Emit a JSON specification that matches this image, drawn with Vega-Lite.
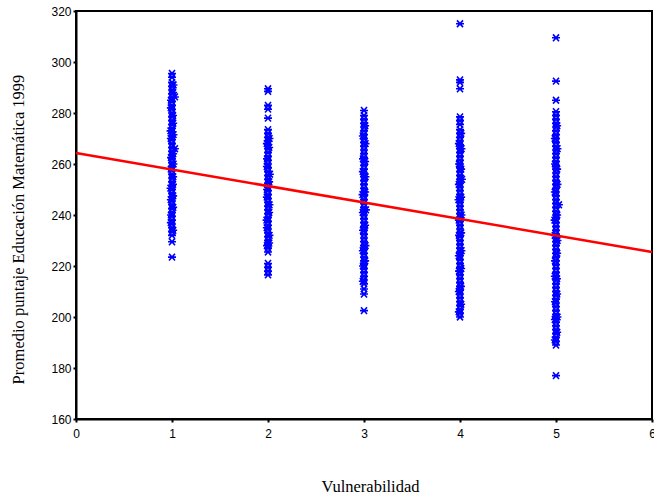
{
  "$schema": "https://vega.github.io/schema/vega-lite/v6.json",
  "width": 576,
  "height": 408,
  "autosize": {"type": "none"},
  "padding": {"left": 76, "top": 11, "right": 2, "bottom": 76},
  "background": "white",
  "config": {
    "view": {"stroke": "black", "strokeWidth": 2},
    "axis": {"grid": false, "domainColor": "black", "domainWidth": 2, "tickColor": "black", "tickWidth": 2, "tickSize": 3, "labelFont": "Liberation Sans", "labelFontSize": 12, "labelColor": "black", "titleFont": "Liberation Serif", "titleFontSize": 16.5, "titleFontWeight": "normal", "titleColor": "black"}
  },
  "datasets": {
    "pts": [
      {"v":1,"p":295.5},{"v":1,"p":294},{"v":1,"p":292},{"v":1,"p":290.5},{"v":1,"p":289},{"v":1,"p":287.5},{"v":1,"p":286},{"v":1,"p":284.5},{"v":1,"p":283},{"v":1,"p":281.5},{"v":1,"p":280},{"v":1,"p":278.5},{"v":1,"p":277},{"v":1,"p":275.5},{"v":1,"p":274},{"v":1,"p":272.5},{"v":1,"p":271},{"v":1,"p":269.5},{"v":1,"p":268},{"v":1,"p":266.5},{"v":1,"p":265},{"v":1,"p":263.5},{"v":1,"p":262},{"v":1,"p":260.5},{"v":1,"p":259},{"v":1,"p":257.5},{"v":1,"p":256},{"v":1,"p":254.5},{"v":1,"p":253},{"v":1,"p":251.5},{"v":1,"p":250},{"v":1,"p":248.5},{"v":1,"p":247},{"v":1,"p":245.5},{"v":1,"p":244},{"v":1,"p":242.5},{"v":1,"p":241},{"v":1,"p":239.5},{"v":1,"p":238},{"v":1,"p":236.5},{"v":1,"p":235},{"v":1,"p":233.5},{"v":1,"p":232},{"v":1,"p":229.5},{"v":1,"p":223.5},
      {"v":1.015,"p":291},{"v":1.03,"p":286.3},{"v":1.01,"p":279},{"v":1.015,"p":271.5},{"v":1.03,"p":266},{"v":1.015,"p":260},{"v":1.01,"p":252},{"v":0.99,"p":285},{"v":0.985,"p":273},{"v":0.99,"p":262.5},{"v":0.985,"p":250.5},{"v":0.99,"p":240},
      {"v":1.012,"p":288},{"v":0.988,"p":282},{"v":1.012,"p":276},{"v":0.988,"p":270},{"v":1.012,"p":264},{"v":0.988,"p":258},{"v":1.012,"p":255},{"v":0.988,"p":246},{"v":1.012,"p":243},{"v":0.988,"p":237},{"v":1.012,"p":234},{"v":1.012,"p":247.5},
      {"v":2,"p":289.5},{"v":2,"p":288.5},{"v":2,"p":283},{"v":2,"p":281.5},{"v":2,"p":278},{"v":2,"p":273.5},{"v":2,"p":272},{"v":2,"p":270.5},{"v":2,"p":269},{"v":2,"p":267.5},{"v":2,"p":266},{"v":2,"p":264.5},{"v":2,"p":263},{"v":2,"p":261.5},{"v":2,"p":260},{"v":2,"p":258.5},{"v":2,"p":257},{"v":2,"p":255.5},{"v":2,"p":254},{"v":2,"p":252.5},{"v":2,"p":251},{"v":2,"p":249.5},{"v":2,"p":248},{"v":2,"p":246.5},{"v":2,"p":245},{"v":2,"p":243.5},{"v":2,"p":242},{"v":2,"p":240.5},{"v":2,"p":239},{"v":2,"p":237.5},{"v":2,"p":236},{"v":2,"p":234.5},{"v":2,"p":233},{"v":2,"p":231.5},{"v":2,"p":230},{"v":2,"p":228.5},{"v":2,"p":227},{"v":2,"p":225.5},{"v":2,"p":221},{"v":2,"p":219.5},{"v":2,"p":218},{"v":2,"p":216.5},
      {"v":2.015,"p":270},{"v":2.02,"p":256},{"v":2.015,"p":244},{"v":2.015,"p":232},{"v":1.99,"p":262},{"v":1.99,"p":250},{"v":1.985,"p":238},{"v":1.99,"p":228},
      {"v":2.012,"p":266.5},{"v":1.988,"p":259},{"v":2.012,"p":253},{"v":1.988,"p":247},{"v":2.012,"p":241},{"v":1.988,"p":235},{"v":2.012,"p":229},{"v":1.988,"p":268},
      {"v":3,"p":281},{"v":3,"p":279},{"v":3,"p":277.5},{"v":3,"p":276},{"v":3,"p":274.5},{"v":3,"p":273},{"v":3,"p":271.5},{"v":3,"p":270},{"v":3,"p":268.5},{"v":3,"p":267},{"v":3,"p":265.5},{"v":3,"p":264},{"v":3,"p":262.5},{"v":3,"p":261},{"v":3,"p":259.5},{"v":3,"p":258},{"v":3,"p":256.5},{"v":3,"p":255},{"v":3,"p":253.5},{"v":3,"p":252},{"v":3,"p":250.5},{"v":3,"p":249},{"v":3,"p":247.5},{"v":3,"p":246},{"v":3,"p":244.5},{"v":3,"p":243},{"v":3,"p":241.5},{"v":3,"p":240},{"v":3,"p":238.5},{"v":3,"p":237},{"v":3,"p":235.5},{"v":3,"p":234},{"v":3,"p":232.5},{"v":3,"p":231},{"v":3,"p":229.5},{"v":3,"p":228},{"v":3,"p":226.5},{"v":3,"p":225},{"v":3,"p":223.5},{"v":3,"p":222},{"v":3,"p":220.5},{"v":3,"p":219},{"v":3,"p":217.5},{"v":3,"p":216},{"v":3,"p":214.5},{"v":3,"p":213},{"v":3,"p":211},{"v":3,"p":209},{"v":3,"p":202.5},
      {"v":3.015,"p":268},{"v":3.015,"p":255},{"v":3.02,"p":242},{"v":3.015,"p":228},{"v":2.99,"p":262},{"v":2.985,"p":248},{"v":2.99,"p":234},{"v":2.99,"p":220},
      {"v":3.012,"p":275},{"v":2.988,"p":271},{"v":3.012,"p":261},{"v":2.988,"p":257},{"v":3.012,"p":249},{"v":2.988,"p":241},{"v":3.012,"p":236},{"v":2.988,"p":226},{"v":3.012,"p":222},{"v":2.988,"p":214},
      {"v":4,"p":315},{"v":4,"p":293},{"v":4,"p":292},{"v":4,"p":289.5},{"v":4,"p":278.5},{"v":4,"p":277},{"v":4,"p":275.5},{"v":4,"p":273.5},{"v":4,"p":272},{"v":4,"p":270.5},{"v":4,"p":269},{"v":4,"p":267.5},{"v":4,"p":266},{"v":4,"p":264.5},{"v":4,"p":263},{"v":4,"p":261.5},{"v":4,"p":260},{"v":4,"p":258.5},{"v":4,"p":257},{"v":4,"p":255.5},{"v":4,"p":254},{"v":4,"p":252.5},{"v":4,"p":251},{"v":4,"p":249.5},{"v":4,"p":248},{"v":4,"p":246.5},{"v":4,"p":245},{"v":4,"p":243.5},{"v":4,"p":242},{"v":4,"p":240.5},{"v":4,"p":239},{"v":4,"p":237.5},{"v":4,"p":236},{"v":4,"p":234.5},{"v":4,"p":233},{"v":4,"p":231.5},{"v":4,"p":230},{"v":4,"p":228.5},{"v":4,"p":227},{"v":4,"p":225.5},{"v":4,"p":224},{"v":4,"p":222.5},{"v":4,"p":221},{"v":4,"p":219.5},{"v":4,"p":218},{"v":4,"p":216.5},{"v":4,"p":215},{"v":4,"p":213.5},{"v":4,"p":212},{"v":4,"p":210.5},{"v":4,"p":209},{"v":4,"p":207.5},{"v":4,"p":206},{"v":4,"p":204.5},{"v":4,"p":203},{"v":4,"p":201.5},{"v":4,"p":200},
      {"v":4.015,"p":266},{"v":4.02,"p":254},{"v":4.015,"p":240},{"v":4.015,"p":226},{"v":4.01,"p":212},{"v":3.99,"p":260},{"v":3.985,"p":246},{"v":3.99,"p":232},{"v":3.99,"p":218},
      {"v":4.012,"p":272},{"v":3.988,"p":268},{"v":4.012,"p":258},{"v":3.988,"p":252},{"v":4.012,"p":247},{"v":3.988,"p":238},{"v":4.012,"p":233},{"v":3.988,"p":224},{"v":4.012,"p":219},{"v":3.988,"p":210},{"v":4.012,"p":205},{"v":3.988,"p":202},
      {"v":5,"p":309.5},{"v":5,"p":292.5},{"v":5,"p":285},{"v":5,"p":280.5},{"v":5,"p":279},{"v":5,"p":277.5},{"v":5,"p":276},{"v":5,"p":274.5},{"v":5,"p":273},{"v":5,"p":271.5},{"v":5,"p":270},{"v":5,"p":268.5},{"v":5,"p":267},{"v":5,"p":265.5},{"v":5,"p":264},{"v":5,"p":262.5},{"v":5,"p":261},{"v":5,"p":259.5},{"v":5,"p":258},{"v":5,"p":256.5},{"v":5,"p":255},{"v":5,"p":253.5},{"v":5,"p":252},{"v":5,"p":250.5},{"v":5,"p":249},{"v":5,"p":247.5},{"v":5,"p":246},{"v":5,"p":244.5},{"v":5,"p":243},{"v":5,"p":241.5},{"v":5,"p":240},{"v":5,"p":238.5},{"v":5,"p":237},{"v":5,"p":235.5},{"v":5,"p":234},{"v":5,"p":232.5},{"v":5,"p":231},{"v":5,"p":229.5},{"v":5,"p":228},{"v":5,"p":226.5},{"v":5,"p":225},{"v":5,"p":223.5},{"v":5,"p":222},{"v":5,"p":220.5},{"v":5,"p":219},{"v":5,"p":217.5},{"v":5,"p":216},{"v":5,"p":214.5},{"v":5,"p":213},{"v":5,"p":211.5},{"v":5,"p":210},{"v":5,"p":208.5},{"v":5,"p":207},{"v":5,"p":205.5},{"v":5,"p":204},{"v":5,"p":202.5},{"v":5,"p":201},{"v":5,"p":199.5},{"v":5,"p":198},{"v":5,"p":196.5},{"v":5,"p":195},{"v":5,"p":193.5},{"v":5,"p":192},{"v":5,"p":190.5},{"v":5,"p":189},{"v":5,"p":177},
      {"v":5.015,"p":266},{"v":5.03,"p":244},{"v":5.015,"p":252},{"v":5.015,"p":230},{"v":5.01,"p":215},{"v":5.015,"p":200},{"v":4.99,"p":260},{"v":4.985,"p":238},{"v":4.99,"p":222},{"v":4.99,"p":206},
      {"v":5.012,"p":275},{"v":4.988,"p":270},{"v":5.012,"p":258},{"v":4.988,"p":249},{"v":5.012,"p":240},{"v":4.988,"p":232},{"v":5.012,"p":225},{"v":4.988,"p":216},{"v":5.012,"p":209},{"v":4.988,"p":199},{"v":5.012,"p":194},{"v":4.988,"p":191}
    ],
    "fit": [{"v": 0, "p": 264.3}, {"v": 6, "p": 225.5}]
  },
  "layer": [
    {
      "data": {"name": "pts"},
      "mark": {"type": "point", "shape": "M-1,0L1,0M-0.75,-0.85L0.75,0.85M-0.75,0.85L0.75,-0.85", "filled": false, "stroke": "#0000ff", "strokeWidth": 1.6, "size": 64, "opacity": 1},
      "encoding": {
        "x": {"field": "v", "type": "quantitative", "scale": {"domain": [0, 6], "nice": false, "zero": false}, "axis": {"values": [0,1,2,3,4,5,6], "format": "d", "labelPadding": 6, "title": "Vulnerabilidad", "titlePadding": 39, "titleX": 294, "labelFlush": false}},
        "y": {"field": "p", "type": "quantitative", "scale": {"domain": [160, 320], "nice": false, "zero": false}, "axis": {"values": [160,180,200,220,240,260,280,300,320], "format": "d", "labelPadding": 2, "title": "Promedio puntaje Educación Matemática 1999", "titlePadding": 24, "titleY": 218, "labelFlush": false}}
      }
    },
    {
      "data": {"name": "fit"},
      "mark": {"type": "line", "color": "#ff0000", "strokeWidth": 2.5},
      "encoding": {
        "x": {"field": "v", "type": "quantitative"},
        "y": {"field": "p", "type": "quantitative"}
      }
    }
  ]
}
